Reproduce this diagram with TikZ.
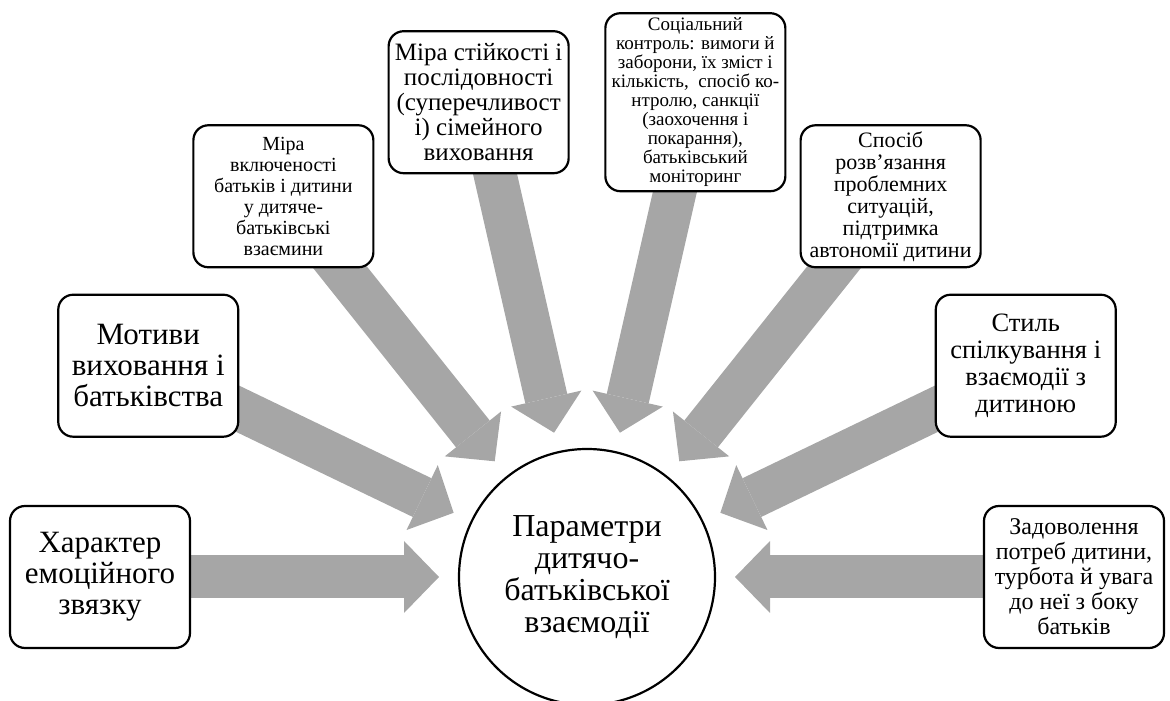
\documentclass[tikz,border=0pt]{standalone}
\usepackage{fontspec}
\setmainfont{Liberation Serif}
\usetikzlibrary{arrows.meta,calc,backgrounds}
\definecolor{arrowgray}{RGB}{166,166,166}
\newcommand\setfs[2]{\fontsize{#1}{#2}\selectfont}
\begin{document}
\begin{tikzpicture}[x=1pt,y=1pt,
  boxnode/.style={draw, line width=2.2pt, rounded corners=15pt, fill=white,
    minimum width=180pt, minimum height=142pt, align=center, inner sep=1pt},
  hub/.style={circle, draw, line width=2.2pt, fill=white, minimum size=256pt,
    align=center, inner sep=0pt},
  flow/.style={line width=43pt, draw=arrowgray,
    -{Triangle[length=35pt,width=72pt,line width=0pt,fill=arrowgray]}}]
\useasboundingbox (0,0) rectangle (1170,701);
\coordinate (C) at (587,124);
\node[hub, font=\setfs{32}{32}] (hub) at (C) {Параметри\\дитячо-\\батьківської\\взаємодії};
\node[boxnode, font=\setfs{31}{31}] (b0) at ($(C)+(180:487)$) {Характер\\емоційного\\звязку};
\node[boxnode, font=\setfs{31}{31}] (b1) at ($(C)+(154.2857:487)$) {Мотиви\\виховання і\\батьківства};
\node[boxnode, font=\setfs{20}{21}] (b2) at ($(C)+(128.5714:487)$) {Міра\\включеності\\батьків і дитини\\у дитяче-\\батьківські\\взаємини};
\node[boxnode, font=\setfs{25}{25}] (b3) at ($(C)+(102.8571:487)$) {Міра стійкості і\\послідовності\\(суперечливост\\і) сімейного\\виховання};
\node[boxnode, minimum height=178pt, font=\setfs{19}{19}] (b4) at ($(C)+(77.1429:487)$) {Соціальний\\контроль: вимоги й\\заборони, їх зміст і\\кількість,\ \ спосіб ко-\\нтролю, санкції\\(заохочення і\\покарання),\\батьківський\\моніторинг};
\node[boxnode, font=\setfs{22}{22}] (b5) at ($(C)+(51.4286:487)$) {Спосіб\\розв’язання\\проблемних\\ситуацій,\\підтримка\\автономії дитини};
\node[boxnode, font=\setfs{26.5}{27}] (b6) at ($(C)+(25.7143:487)$) {Стиль\\спілкування і\\взаємодії з\\дитиною};
\node[boxnode, font=\setfs{24}{25}] (b7) at ($(C)+(0:487)$) {Задоволення\\потреб дитини,\\турбота й увага\\до неї з боку\\батьків};
\coordinate (t0) at ($(C)+(180:148)$);
\coordinate (t1) at ($(C)+(154.2857:148)$);
\coordinate (t2) at ($(C)+(128.5714:148)$);
\coordinate (t3) at ($(C)+(102.8571:148)$);
\coordinate (t4) at ($(C)+(77.1429:148)$);
\coordinate (t5) at ($(C)+(51.4286:148)$);
\coordinate (t6) at ($(C)+(25.7143:148)$);
\coordinate (t7) at ($(C)+(0:148)$);
\begin{pgfonlayer}{background}
\foreach \i in {0,...,7} {\draw[flow] (b\i.center) -- (t\i);}
\end{pgfonlayer}
\end{tikzpicture}
\end{document}
